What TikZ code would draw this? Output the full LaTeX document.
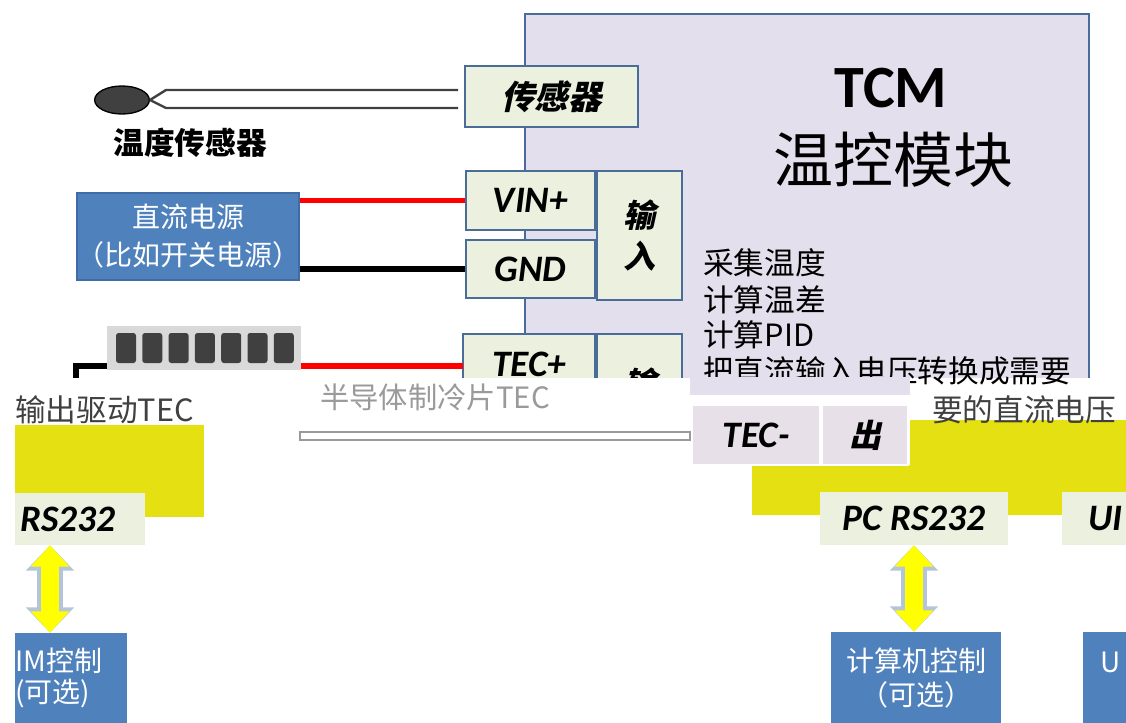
\documentclass[tikz,border=0pt]{standalone}
\usepackage{fontspec}
\setmainfont{Carlito}
\newfontfamily\cjk{Noto Sans CJK SC}
\newfontfamily\cjksl[FakeSlant=0.22]{Noto Sans CJK SC}
\usetikzlibrary{arrows.meta,fit,shapes.geometric}
\definecolor{lav}{HTML}{E4DFEC}
\definecolor{lavpink}{HTML}{E8E0E8}
\definecolor{bord}{HTML}{4A6C98}
\definecolor{pale}{HTML}{EBF1DE}
\definecolor{dcblue}{HTML}{4F81BD}
\definecolor{dcbord}{HTML}{3F6CA6}
\definecolor{band}{HTML}{E4E012}
\definecolor{arrowy}{HTML}{FFFF00}
\definecolor{arrowline}{HTML}{B4C4DA}
\definecolor{wiregray}{HTML}{404040}
\definecolor{sinkgray}{HTML}{D9D9D9}
\definecolor{block}{HTML}{404040}
\definecolor{ghost}{HTML}{9A9A9A}
\tikzset{
  mainbox/.style={draw=bord, fill=lav, line width=2.2pt, inner sep=0pt},
  portbox/.style={draw=bord, fill=pale, line width=2.2pt, inner sep=0pt},
  palebox/.style={fill=pale, inner sep=0pt},
  portlbl/.style={font=\bfseries\itshape\fontsize{28}{30}\selectfont, inner sep=0pt},
  cjkport/.style={font=\cjksl\bfseries\fontsize{24}{31}\selectfont, inner sep=0pt},
  dcbox/.style={draw=dcbord, fill=dcblue, line width=1.5pt, inner sep=0pt},
  dctxt/.style={text=white, align=center, inner sep=0pt, font=\cjk\fontsize{21}{28.5}\selectfont},
  ctlbox/.style={fill=dcblue, inner sep=0pt},
  ctltxt/.style={text=white, font=\cjk\fontsize{21}{23}\selectfont, inner sep=0pt},
  wire/.style={line width=1.8pt, draw=wiregray},
  redwire/.style={line width=3.8pt, draw=red},
  blkwire/.style={line width=3.8pt, draw=black},
  feat/.style={anchor=west, font=\cjk\fontsize{23}{27}\selectfont, inner sep=0pt},
  yout/.style={draw=arrowline, line width=20pt, {Triangle[width=35pt 0 0,length=19pt 0 0]}-{Triangle[width=35pt 0 0,length=19pt 0 0]}},
  yin/.style={draw=arrowy, line width=14pt, {Triangle[width=28pt 0 0,length=16pt 0 0]}-{Triangle[width=28pt 0 0,length=16pt 0 0]}},
}
\begin{document}
\begin{tikzpicture}[x=0.75pt,y=-0.75pt]
\useasboundingbox (0,0) rectangle (1126,722);
\fill[white] (0,0) rectangle (1126,722);

% ---------- upper part, cut off at y=377 ----------
\begin{scope}
  \clip (0,0) rectangle (1126,377);
  \node[mainbox, fit={(525,14) (1089,430)}] (tcm) {};
  \node[portbox, fit={(463,334) (595,394)}, label={[portlbl]center:TEC+}] (tecp) {};
  \node[portbox, fit={(597,334) (682,460)}] (outbox) {};
  \node[cjkport] (outch) at (640,383) {输};
\end{scope}

\node[font=\bfseries\fontsize{45}{50}\selectfont] (tcmt) at (891,88) {TCM};
\node[font=\cjk\fontsize{45}{50}\selectfont] (tcmc) at (893,160) {温控模块};
\node[feat] (f1) at (703,263) {采集温度};
\node[feat] (f2) at (703,300) {计算温差};
\node[feat] (f3) at (703,335) {计算PID};
\begin{scope}
  \clip (525,0) rectangle (1126,386);
  \node[feat] (f4) at (703,371) {把直流输入电压转换成需要};
\end{scope}

% sensor
\node[portbox, fit={(465,66) (638,127)}, label={[cjkport, font=\cjksl\bfseries\fontsize{25}{30}\selectfont]center:传感器}] (sensor) {};
\node[ellipse, draw=black, fill=block, line width=1pt, minimum width=41pt, minimum height=21pt, inner sep=0pt] (bulb) at (122,100) {};
\coordinate (s1) at (166,90);
\coordinate (s2) at (166,108);
\coordinate (w1) at (458,90);
\coordinate (w2) at (458,108);
\draw[wire] (bulb.east) -- (s1) -- (w1);
\draw[wire] (bulb.east) -- (s2) -- (w2);
\node[font=\cjk\bfseries\fontsize{23}{27}\selectfont] (bulblbl) at (190,143) {温度传感器};

% power input
\node[portbox, fit={(466,171) (595,230)}, label={[portlbl]center:VIN+}] (vin) {};
\node[portbox, fit={(466,240) (595,298)}, label={[portlbl]center:GND}] (gnd) {};
\node[portbox, fit={(597,171) (682,300)}, label={[cjkport, align=center, font=\cjksl\bfseries\fontsize{24}{31}\selectfont]center:输\\入}] (inbox) {};
\node[dcbox, fit={(77,193) (299,280)}, label={[dctxt]center:直流电源\\（比如开关电源）}] (dc) {};
\draw[redwire] (dc.east |- vin.west) -- (vin.west);
\draw[blkwire] (dc.east |- gnd.west) -- (gnd.west);

% TEC element
\node[fill=sinkgray, fit={(107,326) (301,370)}, inner sep=0pt] (tec) {};
\foreach \i in {0,...,6}
  \fill[block, rounded corners=2pt] (116+\i*26.3,333) rectangle ++(20,30);
\coordinate (tw) at (463,366);
\draw[redwire] (tec.east |- tw) -- (tw);
\coordinate (bw1) at (76,366);
\coordinate (bw2) at (76,378);
\draw[blkwire] (tec.west |- tw) -- (bw1) -- (bw2);

% ---------- lower part ----------
\node[text=ghost, font=\cjk\fontsize{22}{26}\selectfont, inner sep=0pt] (teclbl) at (435,397) {半导体制冷片TEC};
\node[draw=ghost, fill=white, line width=1pt, fit={(300,432) (690,440)}, inner sep=0pt] (bar) {};

\fill[lav] (690,377) rectangle (910,395);
\fill[band] (910,420) -- (1126,420) -- (1126,515) -- (752,515) -- (752,465) -- (910,465) -- cycle;
\node[draw=white, fill=lavpink, line width=1.5pt, fit={(692,405) (820,465)}, inner sep=0pt, label={[portlbl]center:TEC-}] (tecm) {};
\node[draw=white, fill=lavpink, line width=1.5pt, fit={(822,405) (908,465)}, inner sep=0pt, label={[cjkport]center:出}] (outch2) {};
\node[feat, text=wiregray] (f5) at (932,410) {要的直流电压};

\fill[band] (15,425) rectangle (204,517);
\node[feat, text=wiregray] (f6) at (15,410) {输出驱动TEC};

% RS232 ports
\node[palebox, fit={(15,493) (145,545)}] (lrs) {};
\node[portlbl] (lrst) at (68,519) {RS232};
\node[palebox, fit={(820,492) (1008,545)}, label={[portlbl]center:PC RS232}] (prs) {};
\node[palebox, fit={(1062,492) (1150,545)}] (urs) {};
\node[portlbl, anchor=west] (urst) at (1088,519) {UI};

% control boxes
\node[ctlbox, fit={(15,633) (127,740)}] (lctl) {};
\node[ctltxt, anchor=west, align=left, font=\cjk\fontsize{21}{23}\selectfont] (lctlt) at (15,678) {IM控制\\(可选)};
\node[ctlbox, fit={(831,632) (1001,740)}] (pctl) {};
\node[ctltxt, align=center, font=\cjk\fontsize{21}{25}\selectfont] (pctlt) at (916,678) {计算机控制\\（可选）};
\node[ctlbox, fit={(1083,632) (1150,740)}] (uctl) {};
\node[ctltxt, anchor=west] (uctlt) at (1100,662) {U};

% double arrows
\draw[yout] (lrs.south -| 50,0) -- (lctl.north -| 50,0);
\draw[yin] (lrs.south -| 50,0) -- (lctl.north -| 50,0);
\draw[yout] (prs.south) -- (prs.south |- pctl.north);
\draw[yin] (prs.south) -- (prs.south |- pctl.north);
\end{tikzpicture}
\end{document}
